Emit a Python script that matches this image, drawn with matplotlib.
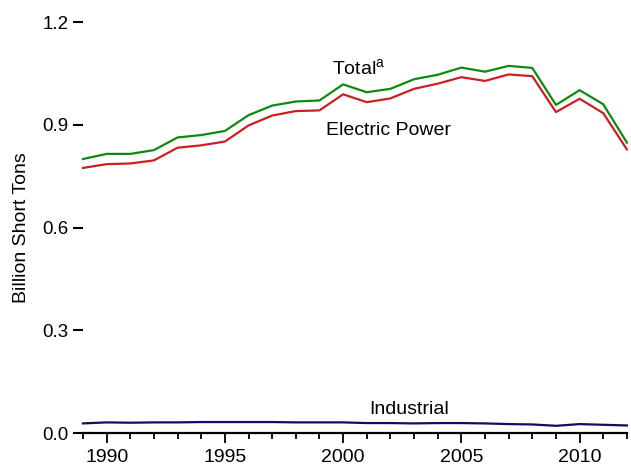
import matplotlib
matplotlib.use("Agg")
import matplotlib.pyplot as plt
from matplotlib.ticker import MultipleLocator, FormatStrFormatter

plt.rcParams['font.family'] = ['Liberation Sans', 'DejaVu Sans']
plt.rcParams['mathtext.fontset'] = 'custom'
plt.rcParams['mathtext.rm'] = 'Liberation Sans'

# coal consumption, billion short tons
years = list(range(1989, 2013))
total = [0.800, 0.815, 0.815, 0.826, 0.863, 0.870, 0.882, 0.928, 0.956, 0.968,
         0.971, 1.018, 0.995, 1.005, 1.033, 1.046, 1.067, 1.055, 1.072, 1.066,
         0.958, 1.001, 0.960, 0.848]
electric = [0.774, 0.785, 0.787, 0.796, 0.833, 0.840, 0.851, 0.898, 0.927, 0.940,
            0.942, 0.989, 0.966, 0.977, 1.005, 1.020, 1.039, 1.028, 1.047, 1.042,
            0.937, 0.976, 0.934, 0.828]
industrial = [0.028, 0.031, 0.030, 0.031, 0.031, 0.032, 0.032, 0.032, 0.032, 0.031,
              0.031, 0.031, 0.029, 0.029, 0.028, 0.029, 0.029, 0.028, 0.026, 0.025,
              0.021, 0.026, 0.024, 0.022]

fig = plt.figure(figsize=(6.31, 4.67), dpi=100)
ax = fig.add_axes([0.1315, 0.0728, 0.862, 0.880])

ax.plot(years, total, color='#0f8a0f', lw=1.6, clip_on=False)
ax.plot(years, electric, color='#cc1f24', lw=1.6, clip_on=False)
ax.plot(years, industrial, color='#0c0f62', lw=1.6, clip_on=False)

ax.set_xlim(1989, 2012)
ax.set_ylim(0, 1.2)
ax.xaxis.set_major_locator(MultipleLocator(5))
ax.xaxis.set_minor_locator(MultipleLocator(1))
ax.yaxis.set_major_locator(MultipleLocator(0.3))
ax.yaxis.set_major_formatter(FormatStrFormatter('%.1f'))

for s in ['top', 'right', 'left']:
    ax.spines[s].set_visible(False)
ax.spines['bottom'].set_linewidth(1.6)

ax.tick_params(axis='y', length=7.5, width=1.5, labelsize=13.5, pad=3)
ax.tick_params(axis='x', which='major', length=7.5, width=1.3, labelsize=14, pad=4)
ax.tick_params(axis='x', which='minor', length=4, width=1.3)

ax.set_ylabel('Billion Short Tons', fontsize=14, labelpad=9)

ax.text(2000.65, 1.063, 'Total$^{\\mathrm{a}}$', fontsize=14, ha='center', va='center')
ax.text(2001.9, 0.882, 'Electric Power', fontsize=14, ha='center', va='center')
ax.text(2002.8, 0.070, 'Industrial', fontsize=14, ha='center', va='center')

fig.savefig('out.png', dpi=100)
